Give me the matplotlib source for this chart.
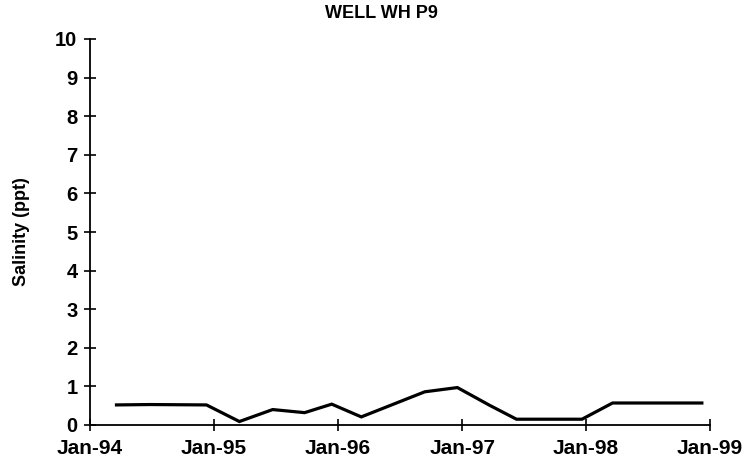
import matplotlib
matplotlib.use("Agg")
import matplotlib.pyplot as plt
import matplotlib.dates as mdates
from datetime import datetime

plt.rcParams['font.family'] = ['Liberation Sans', 'DejaVu Sans']

# Sampling dates and measured salinity (ppt) for well WH P9
sample_dates = ["1994-03-20", "1994-06-26", "1994-12-10", "1995-03-17",
                "1995-06-23", "1995-09-25", "1995-12-14", "1996-03-10",
                "1996-09-13", "1996-12-18", "1997-03-23", "1997-06-10",
                "1997-12-20", "1998-03-20", "1998-12-08"]
salinity = [0.52, 0.53, 0.52, 0.09, 0.40, 0.32, 0.54, 0.21,
            0.86, 0.97, 0.51, 0.15, 0.15, 0.57, 0.57]

x_ticks = ["1994-01-01", "1995-01-01", "1996-01-01", "1997-01-01",
           "1998-01-01", "1999-01-01"]
y_ticks = list(range(0, 11))

dates = [datetime.strptime(d, "%Y-%m-%d") for d in sample_dates]
xt = [datetime.strptime(d, "%Y-%m-%d") for d in x_ticks]

fig = plt.figure(figsize=(7.48, 4.72), dpi=100)
ax = fig.add_axes([90/748, 47/472, 620/748, 386/472])

ax.plot(dates, salinity, color="black", linewidth=2.3, solid_joinstyle="miter")

ax.set_xlim(xt[0], xt[-1])
ax.set_ylim(0, 10)
ax.set_xticks(xt)
ax.xaxis.set_major_formatter(mdates.DateFormatter("%b-%y"))
ax.set_yticks(y_ticks)

for s in ("top", "right"):
    ax.spines[s].set_visible(False)
for s in ("left", "bottom"):
    ax.spines[s].set_linewidth(1.3)
    ax.spines[s].set_color("black")

ax.tick_params(axis="both", direction="inout", length=8, width=1.2, colors="black")
ax.tick_params(axis="x", pad=6, labelsize=15)
ax.tick_params(axis="y", pad=5, labelsize=14.5)
for lbl in ax.get_xticklabels() + ax.get_yticklabels():
    lbl.set_fontweight("bold")

ax.set_ylabel("Salinity (ppt)", fontsize=13, fontweight="bold")
ax.yaxis.set_label_coords(-0.097, 0.5)

fig.text(381/748, 1 - 14/472, "WELL WH P9", ha="center", va="center",
         fontsize=13, fontweight="bold")

fig.savefig("out.png", dpi=100)
